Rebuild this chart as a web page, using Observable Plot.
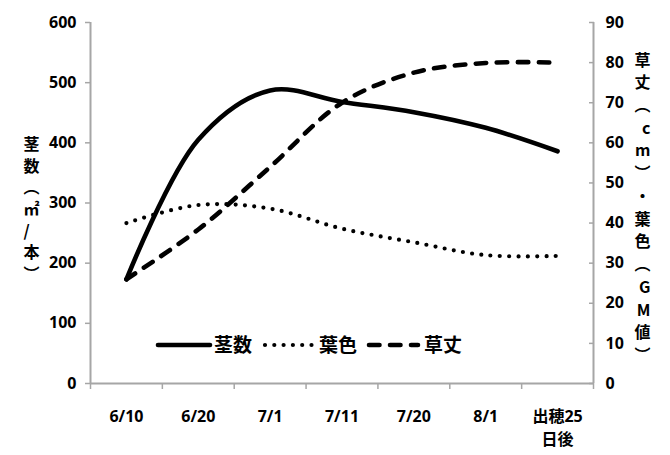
<!DOCTYPE html>
<html><head><meta charset="utf-8">
<script src="https://cdn.jsdelivr.net/npm/d3@7"></script>
<script src="https://cdn.jsdelivr.net/npm/@observablehq/plot@0.6"></script>
<style>
body{margin:0;background:#fff;}
#wrap{position:relative;width:670px;height:455px;}
#legend{position:absolute;left:0;top:0;pointer-events:none;}
</style></head><body><div id="wrap"></div>
<script>
const dates = ["6/10","6/20","7/1","7/11","7/20","8/1","出穂25\n日後"];
const stems = [173, 405, 487, 468, 451, 425, 386];        // 茎数 (left axis)
const leafColor = [40.0, 44.5, 43.6, 38.6, 35.2, 32.0, 31.8]; // 葉色 (right axis)
const plantHeight = [26.0, 38.4, 54.0, 70.0, 77.5, 79.9, 80.0]; // 草丈 (right axis)
const leftTicks = [0,100,200,300,400,500,600];
const rightTicks = [0,10,20,30,40,50,60,70,80,90];
const seriesNames = ["茎数","葉色","草丈"];
const leftTitle = "茎数︵㎡/本︶";
const rightTitle = "草丈︵cm︶・葉色︵GM値︶";

const k = 600/90;
const rows = dates.map((d,i)=>({i:i+0.5, stems:stems[i], leaf:leafColor[i]*k, ht:plantHeight[i]*k}));
const font = "'Open Sans', 'Noto Sans CJK JP', sans-serif";
const cjk = "'Noto Sans CJK JP', sans-serif";
const axisGray = "#a6a6a6";

const plot = Plot.plot({
  width:670, height:455, marginLeft:90, marginRight:77, marginTop:22, marginBottom:72,
  style:{fontFamily:font, fontSize:"16px", fontWeight:"bold", color:"#000", background:"#fff", overflow:"visible"},
  x:{type:"linear", domain:[0, dates.length], label:null},
  y:{domain:[0,600], label:null},
  marks:[
    Plot.axisY({ticks:leftTicks, tickSize:5, tickPadding:9, label:null, stroke:axisGray, strokeWidth:1.5, fill:"#000"}),
    Plot.axisY({anchor:"right", ticks:rightTicks.map(v=>v*k), tickFormat:v=>String(Math.round(v/k)), tickSize:-5, tickPadding:17, label:null, stroke:axisGray, strokeWidth:1.5, fill:"#000"}),
    Plot.axisX({ticks:d3.range(0, dates.length+1), tickFormat:()=>"", tickSize:6, label:null, stroke:axisGray, strokeWidth:1.5}),
    Plot.axisX({ticks:dates.map((d,i)=>i+0.5), tickFormat:v=>dates[Math.floor(v)], tickSize:0, tickPadding:22, label:null, fill:"#000", lineHeight:1.45}),
    Plot.ruleX([0], {stroke:axisGray, strokeWidth:2}),
    Plot.ruleX([dates.length], {stroke:axisGray, strokeWidth:2}),
    Plot.ruleY([0], {stroke:axisGray, strokeWidth:2}),
    Plot.line(rows, {x:"i", y:"leaf", curve:"catmull-rom", stroke:"#000", strokeWidth:4.2, strokeDasharray:"0 9.3", strokeLinecap:"round"}),
    Plot.line(rows, {x:"i", y:"ht", curve:"catmull-rom", stroke:"#000", strokeWidth:4.6, strokeDasharray:"10.5 10.5", strokeLinecap:"round"}),
    Plot.line(rows, {x:"i", y:"stems", curve:"catmull-rom", stroke:"#000", strokeWidth:4.6, strokeLinecap:"round"}),
    Plot.text([leftTitle], {text:d=>Array.from(d).join("\n"), frameAnchor:"left", dx:-67, dy:5, fontSize:16, lineHeight:1.35, fontFamily:cjk, fontWeight:"bold", fill:"#000"}),
    Plot.text([rightTitle], {text:d=>Array.from(d).join("\n"), frameAnchor:"right", dx:57, dy:3, fontSize:16, lineHeight:1.42, fontFamily:cjk, fontWeight:"bold", fill:"#000"})
  ]
});
const wrap = document.getElementById("wrap");
wrap.appendChild(plot);

// legend overlay
const lg = d3.select(wrap).append("svg").attr("id","legend").attr("width",670).attr("height",455);
const items = [
  {x1:158, x2:210, tx:214, dash:null, w:4.6},
  {x1:265, x2:315, tx:319, dash:"0 9.3", w:4.2},
  {x1:369, x2:418, tx:424, dash:"10.5 10.5", w:4.6}
];
items.forEach((it, j) => {
  lg.append("line").attr("x1",it.x1).attr("x2",it.x2).attr("y1",345).attr("y2",345)
    .attr("stroke","#000").attr("stroke-width",it.w).attr("stroke-linecap","round")
    .attr("stroke-dasharray", it.dash);
  lg.append("text").attr("x",it.tx).attr("y",345).attr("dy","0.36em")
    .attr("font-family",cjk).attr("font-weight","bold").attr("font-size",19).text(seriesNames[j]);
});
</script></body></html>
